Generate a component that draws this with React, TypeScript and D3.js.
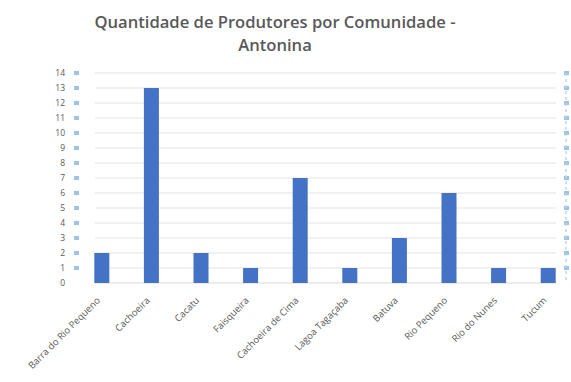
import React from "react";
import * as d3 from "d3";

const categories = [
  "Barra do Rio Pequeno",
  "Cachoeira",
  "Cacatu",
  "Faisqueira",
  "Cachoeira de Cima",
  "Lagoa Tagaçaba",
  "Batuva",
  "Rio Pequeno",
  "Rio do Nunes",
  "Tucum",
];
const values = [2, 13, 2, 1, 7, 1, 3, 6, 1, 1];
const yTicks = d3.range(0, 15);
const titleLines = ["Quantidade de Produtores por Comunidade -", "Antonina"];

const W = 571;
const H = 382;

export default function App() {
  const x = d3.scaleBand<string>().domain(categories).range([77, 573]).paddingInner(0.7).paddingOuter(0.35);
  const y = d3.scaleLinear().domain([0, 14]).range([283, 73]);
  const bw = 15;
  const grey = "#595959";
  const font = "'Open Sans', 'Liberation Sans', sans-serif";
  const center = (c: string) => (x(c) as number) + x.bandwidth() / 2;
  return (
    <svg width={W} height={H} style={{ position: "absolute", left: 0, top: 0, background: "#fff" }} fontFamily={font}>
      <rect width={W} height={H} fill="#fff" />
      {titleLines.map((t, i) => (
        <text key={t} x={275} y={28 + i * 23} textAnchor="middle" fontSize={16.6} fontWeight={600} fill={grey}>
          {t}
        </text>
      ))}
      {yTicks.map((t) => (
        <g key={t}>
          {t > 0 && <line x1={95} x2={556} y1={y(t)} y2={y(t)} stroke="#e3e3e3" strokeWidth={1} />}
          <text x={65} y={y(t) + 3} textAnchor="end" fontSize={8.5} fill={grey}>
            {t}
          </text>
          {t > 0 && <rect x={74} y={y(t) - 2} width={5} height={4} fill="#9dc3e6" />}
          {t > 0 && <rect x={564} y={y(t) - 2} width={5} height={4} fill="#9dc3e6" />}
        </g>
      ))}
      <line x1={566} x2={566} y1={y(14)} y2={y(0)} stroke="#bdd7ee" strokeWidth={1.5} strokeDasharray="3,3" />
      <line x1={95} x2={556} y1={y(0)} y2={y(0)} stroke="#d9d9d9" strokeWidth={1} />
      {categories.map((c, i) => (
        <rect key={c} x={center(c) - bw / 2} y={y(values[i])} width={bw} height={y(0) - y(values[i])} fill="#4472c4" />
      ))}
      {categories.map((c) => (
        <text
          key={c}
          transform={`translate(${center(c) - 1},${y(0) + 18}) rotate(-45)`}
          textAnchor="end"
          fontSize={9.5}
          fill={grey}
        >
          {c}
        </text>
      ))}
    </svg>
  );
}
